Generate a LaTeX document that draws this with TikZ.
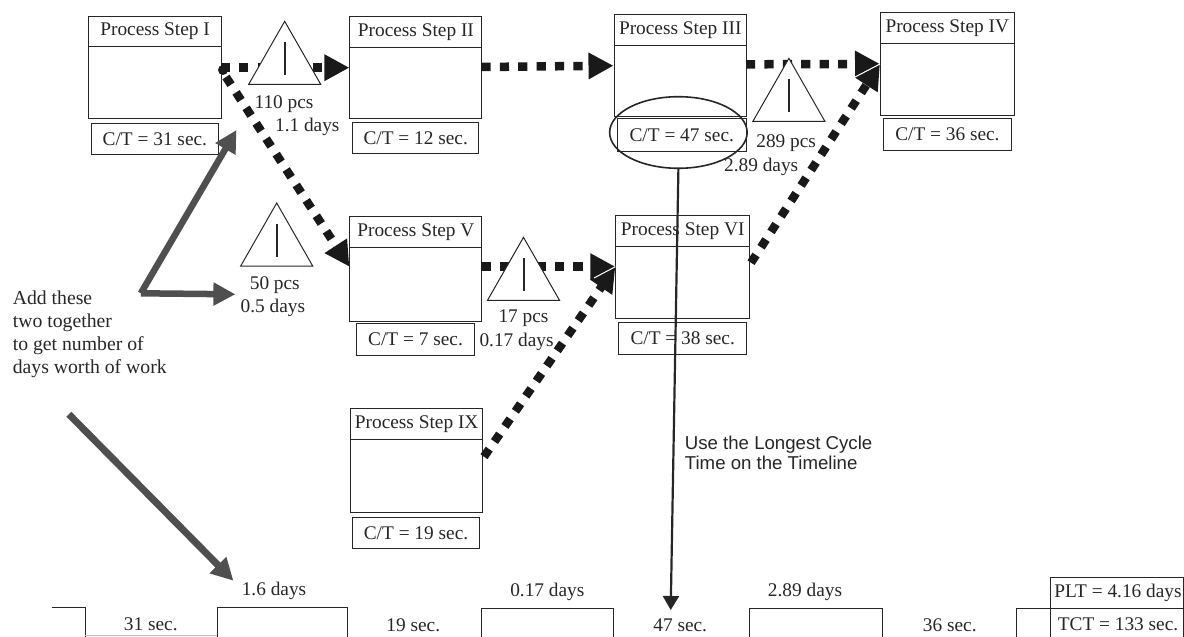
\documentclass[tikz,border=0pt]{standalone}
\usepackage{fontspec}
\setmainfont{Liberation Serif}
\setsansfont{Liberation Sans}
\usetikzlibrary{arrows.meta,calc,shapes.geometric}
\definecolor{ink}{HTML}{262626}
\definecolor{greyarrow}{HTML}{4f4f4f}
\tikzset{
  x=1bp,y=-1bp,
  every node/.style={text=ink,font=\fontsize{19.4}{22}\selectfont},
  framed/.style={draw=ink,line width=1bp,rectangle,inner sep=0pt,anchor=north west},
  plain/.style={inner sep=0pt},
  flow/.style={draw=black!90,line width=8.5bp,dash pattern=on 9.2bp off 9.2bp,-{Triangle[length=25bp,width=25bp]}},
  inv/.style={draw=ink,fill=white,line width=1bp,isosceles triangle,isosceles triangle stretches,shape border rotate=90,minimum width=72bp,minimum height=63bp,inner sep=0pt,anchor=apex},
  invbar/.style={draw=ink,line width=2bp},
  greyline/.style={draw=greyarrow,line width=6.5bp,miter limit=10},
  greyhead/.style={-{Triangle[length=22bp,width=22bp]}},
  leader/.style={draw=ink,line width=2.2bp,-{Triangle[length=14bp,width=16bp]}},
  note/.style={inner sep=0pt,align=left,anchor=west,font=\fontsize{19.8}{23}\selectfont},
  sansnote/.style={inner sep=0pt,align=left,anchor=west,font=\sffamily\fontsize{18.7}{20.5}\selectfont},
  tl/.style={draw=ink,line width=1bp},
  sliver/.style={draw=white,line width=1bp},
  blob/.style={circle,fill=black!90,minimum size=10bp,inner sep=0pt}
}
% name, x1, y1, ydiv, x2, y2, title
\newcommand{\pstep}[7]{%
  \pgfmathsetlengthmacro{\boxw}{(#5-#2)*1bp}%
  \pgfmathsetlengthmacro{\hta}{(#4-#3)*1bp}%
  \pgfmathsetlengthmacro{\htb}{(#6-#4)*1bp}%
  \node[framed,minimum width=\boxw,minimum height=\hta] (#1t) at (#2,#3) {#7};
  \node[framed,minimum width=\boxw,minimum height=\htb] (#1b) at (#2,#4) {};
}
% name, x1, y1, x2, y2, text
\newcommand{\ctbox}[6]{%
  \pgfmathsetlengthmacro{\boxw}{(#4-#2)*1bp}%
  \pgfmathsetlengthmacro{\hta}{(#5-#3)*1bp}%
  \node[framed,minimum width=\boxw,minimum height=\hta] (#1) at (#2,#3) {#6};
}
\newcommand{\invtri}[3]{%
  \node[inv] (#1) at (#2,#3) {};
  \draw[invbar] ($(#1.apex)+(0,22)$) -- ($(#1.apex)+(0,55)$);
}
\begin{document}
\begin{tikzpicture}
\useasboundingbox (0,0) rectangle (1184,637);
% process boxes
\pstep{a}{88.4}{16}{46}{220.8}{118}{Process Step I}
\pstep{c}{349.4}{16}{47}{481.4}{118}{Process Step II}
\pstep{d}{613.5}{14}{45}{746}{116}{Process Step III}
\pstep{e}{880}{12}{43}{1013.5}{115}{Process Step IV}
\pstep{f}{349.4}{216}{247}{481.4}{321}{Process Step V}
\pstep{g}{615.4}{215}{246}{749}{318}{Process Step VI}
\pstep{h}{350.2}{408}{439}{482.2}{512}{Process Step IX}
\ctbox{ca}{90.7}{123}{218}{154}{C/T = 31 sec.}
\ctbox{cc}{352}{122}{478.4}{153}{C/T = 12 sec.}
\ctbox{cd}{616.5}{118}{746}{151}{C/T = 47 sec.}
\ctbox{ce}{882.8}{118}{1011}{150}{C/T = 36 sec.}
\ctbox{cf}{356.3}{323}{473.8}{355}{C/T = 7 sec.}
\ctbox{cg}{618.4}{322}{746}{354}{C/T = 38 sec.}
\ctbox{ch}{352}{517}{479}{548}{C/T = 19 sec.}
% connector ends
\coordinate (aout) at (220.8,67.7);
\coordinate (aoutb) at (226,77);
\coordinate (cin) at (349.4,67.7);
\coordinate (cout) at (481.4,67);
\coordinate (din) at (613.5,65.7);
\coordinate (dout) at (746,64.3);
\coordinate (ein) at (880,64);
\coordinate (fin) at (349.4,266.7);
\coordinate (fout) at (481.4,266.7);
\coordinate (gin) at (615.4,266.7);
\coordinate (gout) at (751,262.7);
\coordinate (hout) at (484,456.7);
% flows
\node[blob] (startblob) at (223,70) {};
\draw[flow] (aout) -- (cin);
\draw[flow] (cout) -- (din);
\draw[flow] (dout) -- (ein);
\draw[flow] (aoutb) -- (fin);
\draw[flow] (fout) -- (gin);
\draw[flow] (gout) -- (ein);
\draw[flow] (hout) -- (gin);
\draw[sliver] (855,77) -- (ein);
\draw[sliver] (594,278) -- (gin);
% inventory triangles
\invtri{ta}{284.7}{20}
\invtri{tb}{276.7}{201.7}
\invtri{tc}{523.5}{236}
\invtri{td}{788.9}{57}
% inventory labels
\node[plain] (la1) at (284,104) {110 pcs};
\node[plain] (la2) at (307.3,127.3) {1.1 days};
\node[plain] (lb1) at (274.8,285) {50 pcs};
\node[plain] (lb2) at (272.9,308) {0.5 days};
\node[plain] (lc1) at (523.5,318) {17 pcs};
\node[plain] (lc2) at (516.6,341.7) {0.17 days};
\node[plain] (ld1) at (786.2,143) {289 pcs};
\node[plain] (ld2) at (761.2,167) {2.89 days};
% notes
\node[note] (addnote) at (12.6,334.5) {Add these\\two together\\to get number of\\days worth of work};
\node[sansnote] (usenote) at (684.7,453) {Use the Longest Cycle\\Time on the Timeline};
% grey arrows
\coordinate (gtop) at (236.5,130);
\coordinate (gknee) at (140.8,293.3);
\coordinate (gright) at (235.4,294.3);
\coordinate (gstart) at (68.9,414.3);
\coordinate (gend) at (233.4,580.7);
\draw[greyline,greyhead] (gknee) -- (gtop);
\draw[greyline,greyhead] (gknee) -- (gright);
\draw[greyline,line width=7bp,greyhead] (gstart) -- (gend);
% timeline
\node[plain] (t1) at (274,590.7) {1.6 days};
\node[plain] (t2) at (547.3,591.7) {0.17 days};
\node[plain] (t3) at (805,592) {2.89 days};
\node[plain] (t4) at (150.8,624.5) {31 sec.};
\node[plain] (t5) at (413.3,625) {19 sec.};
\node[plain] (t6) at (680.2,625) {47 sec.};
\node[plain] (t7) at (949.8,625) {36 sec.};
\draw[tl] (51.7,607) -- (85,607) -- (85,640);
\draw[tl] (217,640) -- (217,607) -- (347.5,607) -- (347.5,640);
\draw[tl] (481.4,640) -- (481.4,608) -- (613.9,608) -- (613.9,640);
\draw[tl] (749,640) -- (749,608) -- (882.4,608) -- (882.4,640);
\draw[tl] (1016.5,640) -- (1016.5,608.5) -- (1050,608.5);
\draw[tl] (1050,640) -- (1050,577) -- (1183,577) -- (1183,640);
\draw[tl] (1050,608.5) -- (1183,608.5);
\node[plain] (plt) at (1118,593) {PLT = 4.16 days};
\node[plain] (tct) at (1118,624) {TCT = 133 sec.};
\draw[black!25,line width=.8bp] (85,635.5) -- (217,635.5);
% ellipse and leader
\node[draw=ink,line width=1.6bp,ellipse,minimum width=137.5bp,minimum height=71.6bp,inner sep=0pt] (oval) at (678.4,132.5) {};
\coordinate (leadend) at (670.7,610);
\draw[leader] (oval.south) -- (leadend);
\end{tikzpicture}
\end{document}
